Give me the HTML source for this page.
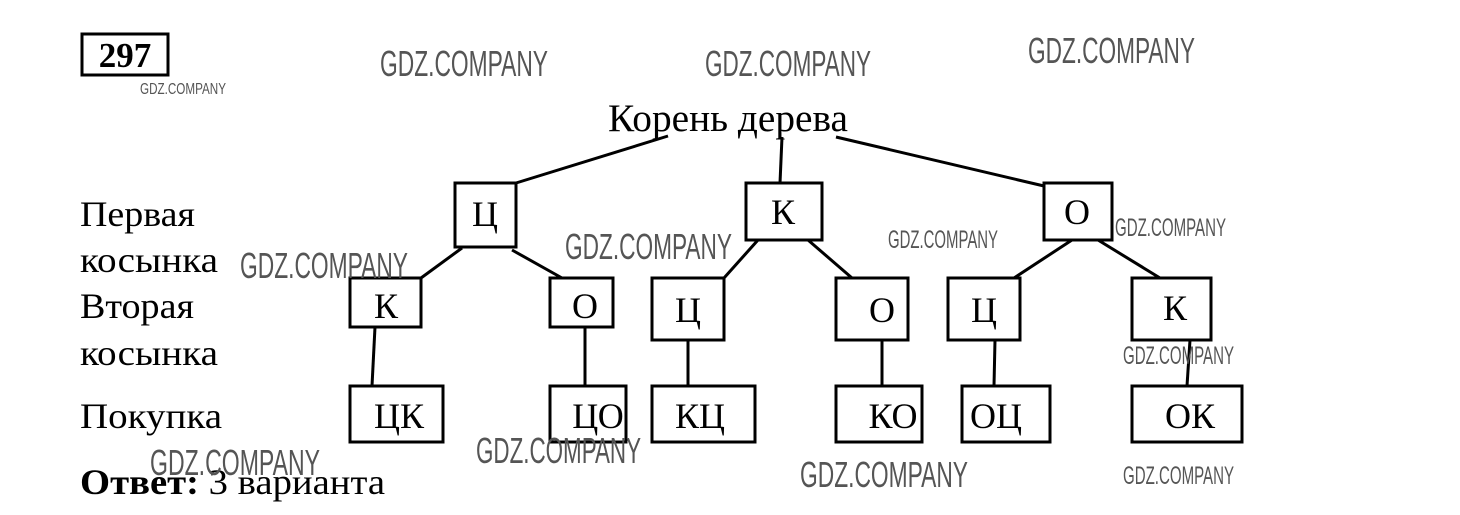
<!DOCTYPE html>
<html><head><meta charset="utf-8"><style>
html,body{margin:0;padding:0;background:#fff;width:1460px;height:515px;overflow:hidden}
svg text.s{font-family:"Liberation Serif","DejaVu Serif",serif;fill:#000}
svg text.w{font-family:"Liberation Sans","DejaVu Sans",sans-serif;fill:#555}
</style></head><body>
<svg width="1460" height="515" viewBox="0 0 1460 515" xmlns="http://www.w3.org/2000/svg">
<g fill="none" stroke="#000" stroke-width="3">
<rect x="82" y="34" width="86" height="41"/>
<rect x="455" y="183" width="61" height="64"/>
<rect x="746" y="183" width="76" height="57"/>
<rect x="1044" y="183" width="68" height="57"/>
<rect x="350" y="278" width="71" height="49"/>
<rect x="550" y="278" width="63" height="49"/>
<rect x="652" y="278" width="72" height="62"/>
<rect x="836" y="278" width="72" height="62"/>
<rect x="948" y="278" width="72" height="62"/>
<rect x="1132" y="278" width="79" height="62"/>
<rect x="350" y="386" width="93" height="56"/>
<rect x="550" y="386" width="76" height="56"/>
<rect x="652" y="386" width="103" height="56"/>
<rect x="836" y="386" width="86" height="56"/>
<rect x="962" y="386" width="88" height="56"/>
<rect x="1132" y="386" width="110" height="56"/>
</g>
<g stroke="#000" stroke-width="3">
<line x1="668" y1="136" x2="516" y2="183"/>
<line x1="782" y1="137" x2="780" y2="183"/>
<line x1="836" y1="137" x2="1044" y2="186"/>
<line x1="462" y1="248" x2="421" y2="278"/>
<line x1="512" y1="250" x2="562" y2="278"/>
<line x1="758" y1="240" x2="724" y2="278"/>
<line x1="808" y1="240" x2="852" y2="278"/>
<line x1="1072" y1="240" x2="1014" y2="278"/>
<line x1="1098" y1="240" x2="1160" y2="278"/>
<line x1="375" y1="327" x2="372" y2="386"/>
<line x1="585" y1="327" x2="585" y2="386"/>
<line x1="688" y1="340" x2="688" y2="386"/>
<line x1="882" y1="340" x2="882" y2="386"/>
<line x1="995" y1="340" x2="994" y2="386"/>
<line x1="1190" y1="340" x2="1187" y2="386"/>
</g>
<text class="s" x="125" y="67" font-size="35" font-weight="bold" text-anchor="middle">297</text>
<text class="s" x="728" y="131" font-size="39" text-anchor="middle" textLength="240" lengthAdjust="spacingAndGlyphs">Корень дерева</text>
<g font-size="36" text-anchor="middle">
<text class="s" x="485" y="226">Ц</text>
<text class="s" x="783" y="224">К</text>
<text class="s" x="1077" y="224">О</text>
<text class="s" x="386" y="318">К</text>
<text class="s" x="585" y="318">О</text>
<text class="s" x="688" y="322">Ц</text>
<text class="s" x="882" y="322">О</text>
<text class="s" x="984" y="322">Ц</text>
<text class="s" x="1175" y="320">К</text>
<text class="s" x="399" y="428">ЦК</text>
<text class="s" x="598" y="428">ЦО</text>
<text class="s" x="700" y="428">КЦ</text>
<text class="s" x="893" y="428">КО</text>
<text class="s" x="996" y="428">ОЦ</text>
<text class="s" x="1190" y="428">ОК</text>
</g>
<g font-size="36">
<text class="s" x="80" y="226" textLength="115" lengthAdjust="spacingAndGlyphs">Первая</text>
<text class="s" x="80" y="272" textLength="138" lengthAdjust="spacingAndGlyphs">косынка</text>
<text class="s" x="80" y="318" textLength="114" lengthAdjust="spacingAndGlyphs">Вторая</text>
<text class="s" x="80" y="365" textLength="138" lengthAdjust="spacingAndGlyphs">косынка</text>
<text class="s" x="80" y="428" textLength="142" lengthAdjust="spacingAndGlyphs">Покупка</text>
<text class="s" x="80" y="494" textLength="305" lengthAdjust="spacingAndGlyphs"><tspan font-weight="bold">Ответ:</tspan> 3 варианта</text>
</g>
<g font-size="36">
<text class="w" x="380" y="76" textLength="168" lengthAdjust="spacingAndGlyphs">GDZ.COMPANY</text>
<text class="w" x="705" y="76" textLength="166" lengthAdjust="spacingAndGlyphs">GDZ.COMPANY</text>
<text class="w" x="1028" y="63" textLength="167" lengthAdjust="spacingAndGlyphs">GDZ.COMPANY</text>
<text class="w" x="565" y="259" textLength="167" lengthAdjust="spacingAndGlyphs">GDZ.COMPANY</text>
<text class="w" x="240" y="278" textLength="168" lengthAdjust="spacingAndGlyphs">GDZ.COMPANY</text>
<text class="w" x="150" y="475" textLength="170" lengthAdjust="spacingAndGlyphs">GDZ.COMPANY</text>
<text class="w" x="476" y="463" textLength="165" lengthAdjust="spacingAndGlyphs">GDZ.COMPANY</text>
<text class="w" x="800" y="487" textLength="168" lengthAdjust="spacingAndGlyphs">GDZ.COMPANY</text>
</g>
<g font-size="25">
<text class="w" x="888" y="248" textLength="110" lengthAdjust="spacingAndGlyphs">GDZ.COMPANY</text>
<text class="w" x="1115" y="236" textLength="111" lengthAdjust="spacingAndGlyphs">GDZ.COMPANY</text>
<text class="w" x="1123" y="364" textLength="111" lengthAdjust="spacingAndGlyphs">GDZ.COMPANY</text>
<text class="w" x="1123" y="484" textLength="111" lengthAdjust="spacingAndGlyphs">GDZ.COMPANY</text>
</g>
<text class="w" x="140" y="94" font-size="16" textLength="86" lengthAdjust="spacingAndGlyphs">GDZ.COMPANY</text>
</svg>
</body></html>
